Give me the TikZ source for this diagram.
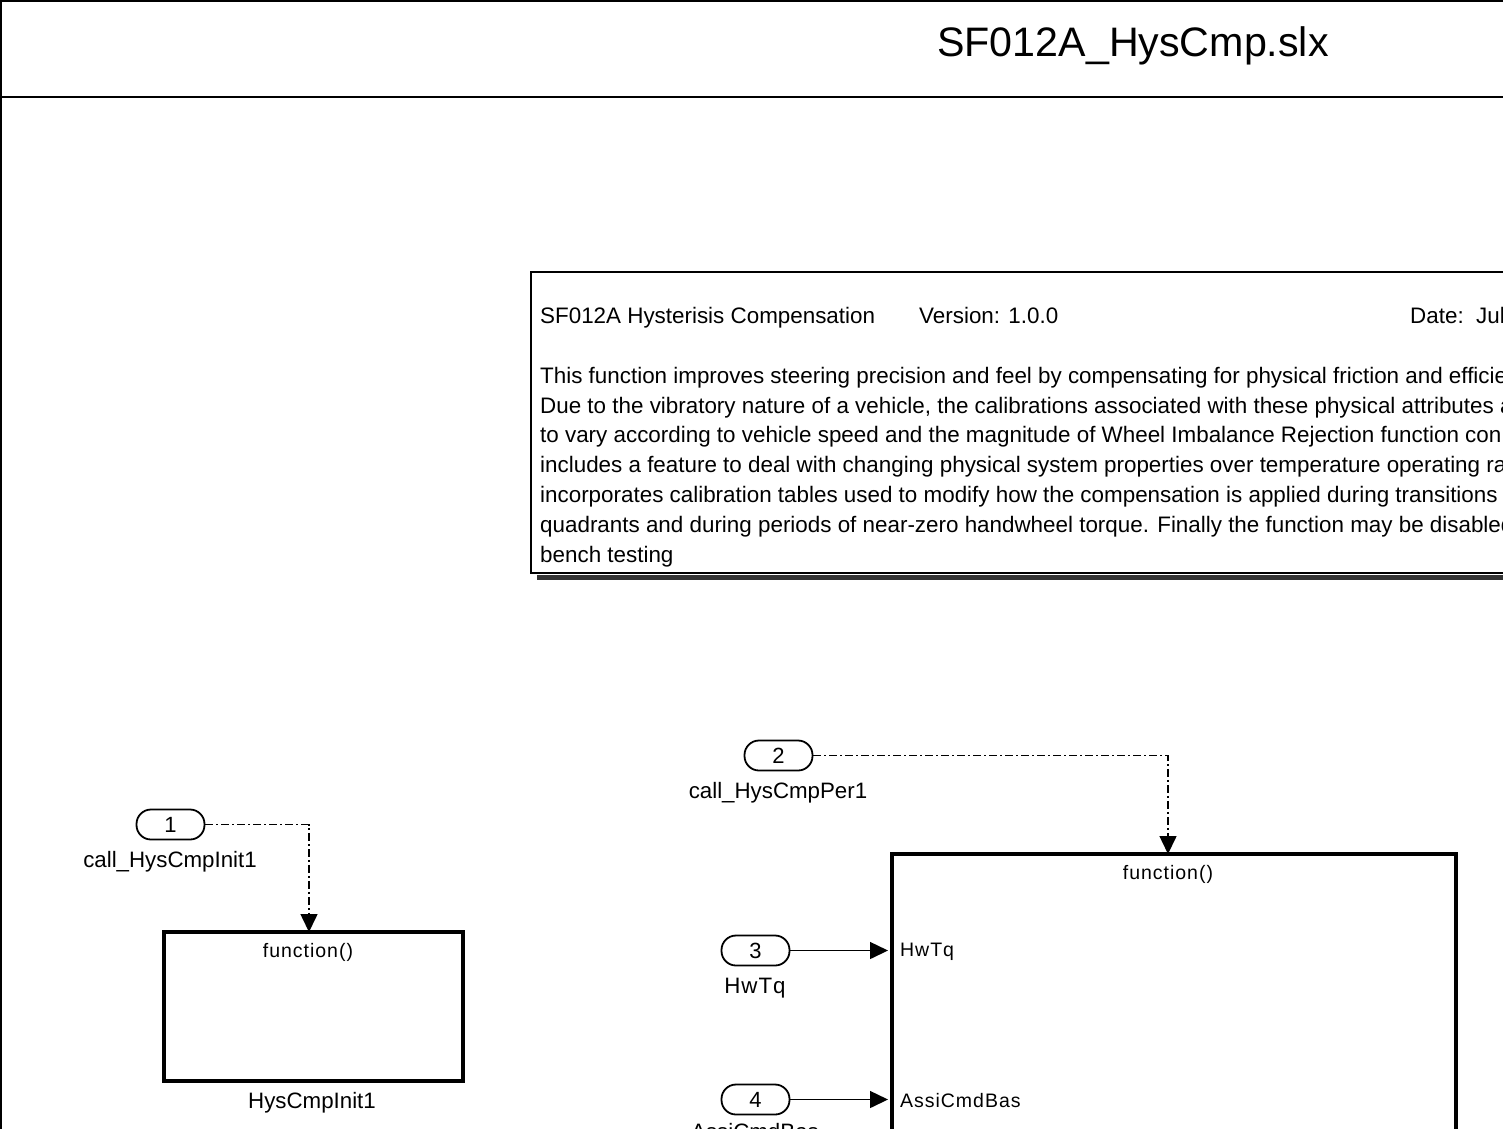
\documentclass[tikz,border=0pt]{standalone}
\usepackage{fontspec}
\setmainfont{Liberation Sans}
\usetikzlibrary{arrows.meta}
\begin{document}
\begin{tikzpicture}[x=1pt,y=-1pt,
  port/.style={draw, line width=1.8pt, rounded corners=14.5pt, minimum width=68pt, minimum height=30pt, inner sep=0pt, font=\fontsize{22}{24}\selectfont},
  plabel/.style={inner sep=0pt, font=\fontsize{22.3}{24}\selectfont},
  block/.style={draw, line width=4pt, inner sep=0pt},
  blabel/.style={inner sep=0pt, font=\fontsize{19.5}{22}\selectfont\addfontfeature{LetterSpace=5}},
  desc/.style={inner sep=0pt, anchor=base west, font=\fontsize{22.4}{26}\selectfont},
  ctrl/.style={line width=1.5pt, dash pattern=on 8pt off 3pt on 2pt off 3pt, -{Triangle[length=18pt,width=17pt]}},
  sig/.style={line width=1.5pt, -{Triangle[length=18pt,width=17pt]}}
]
\useasboundingbox (0,0) rectangle (1503,1128);
\clip (0,0) rectangle (1503,1128);
% frame
\draw[line width=2pt] (1,1130) -- (1,1) -- (1505,1);
\draw[line width=2.5pt] (0,97) -- (1505,97);
\node[inner sep=0pt, font=\fontsize{41.2}{48}\selectfont] (title) at (1133,46) {SF012A\_HysCmp.slx};
% description box
\fill[black!80] (537,575) rectangle (1520,580);
\draw[line width=2pt, fill=white] (531,272) rectangle (1520,573);
\node[desc] (d0) at (540,323) {SF012A Hysterisis Compensation};
\node[desc] (d0b) at (919,323) {Version: 1.0.0};
\node[desc] (d0c) at (1410,323) {Date:\ \ Jul};
\node[desc] (d1) at (540,383) {This function improves steering precision and feel by compensating for physical friction and efficie};
\node[desc] (d2) at (540,413) {Due to the vibratory nature of a vehicle, the calibrations associated with these physical attributes a};
\node[desc] (d3) at (540,442) {to vary according to vehicle speed and the magnitude of Wheel Imbalance Rejection function con};
\node[desc] (d4) at (540,472) {includes a feature to deal with changing physical system properties over temperature operating ra};
\node[desc] (d5) at (540,502) {incorporates calibration tables used to modify how the compensation is applied during transitions};
\node[desc] (d6) at (540,532) {quadrants and during periods of near-zero handwheel torque. Finally the function may be disabled};
\node[desc] (d7) at (540,562) {bench testing};
% blocks
\node[block, minimum width=299pt, minimum height=149pt] (b1) at (313.5,1006.5) {};
\node[blabel] (b1f) at (308,952) {function()};
\node[plabel] (b1n) at (312,1103) {HysCmpInit1};
\node[block, minimum width=564pt, minimum height=460pt] (b2) at (1174,1084) {};
\node[blabel] (b2f) at (1168,874) {function()};
\node[blabel, anchor=west] (b2i1) at (900,952) {HwTq};
\node[blabel, anchor=west] (b2i2) at (900,1101) {AssiCmdBas};
% ports
\node[port] (p1) at (170.5,824.5) {1};
\node[plabel] (p1l) at (170,862) {call\_HysCmpInit1};
\node[port] (p2) at (778.5,755.5) {2};
\node[plabel] (p2l) at (778,793) {call\_HysCmpPer1};
\node[port] (p3) at (755.5,950.5) {3};
\node[plabel] (p3l) at (755,988) {H\kern1pt w\kern1pt T\kern1pt q};
\node[port] (p4) at (755.5,1099.5) {4};
\node[plabel, anchor=north] (p4l) at (755,1123) {AssiCmdBas};
% connectors
\draw[ctrl] (p1.east) -| ([xshift=-4.5pt,yshift=-2pt]b1.north);
\draw[ctrl] (p2.east) -| ([xshift=-6pt,yshift=-2pt]b2.north);
\draw[sig] (p3.east) -- ([xshift=-2pt]p3.east -| b2.west);
\draw[sig] (p4.east) -- ([xshift=-2pt]p4.east -| b2.west);
\end{tikzpicture}
\end{document}
